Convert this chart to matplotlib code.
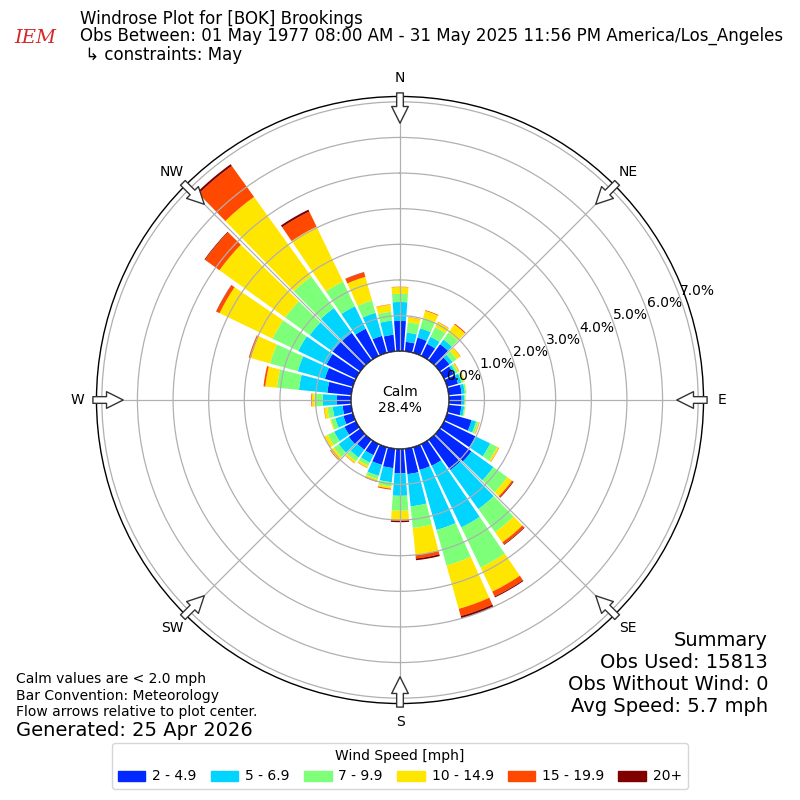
import numpy as np
import matplotlib
matplotlib.use("Agg")
import matplotlib.pyplot as plt
from matplotlib.patches import Circle, Rectangle

# direction bins (deg, meteorological) and percent frequency per speed bin
directions = np.arange(0, 360, 10)
speed_labels = ["2 - 4.9", "5 - 6.9", "7 - 9.9", "10 - 14.9", "15 - 19.9", "20+"]
speed_colors = ["#0028ff", "#00d4ff", "#7dff7a", "#ffe600", "#ff4800", "#800000"]

pct_2_5 = [0.85, 0.27, 0.45, 0.38, 0.56, 0.34, 0.30, 0.32, 0.37, 0.36,
           0.36, 0.72, 0.98, 1.10, 1.05, 0.68, 0.67, 0.72, 0.69, 0.55,
           0.52, 0.35, 0.35, 0.40, 0.36, 0.28, 0.25, 0.40, 0.68, 0.82,
           0.92, 0.96, 0.95, 0.85, 0.50, 0.47]
pct_5_7 = [0.53, 0.26, 0.27, 0.22, 0.16, 0.11, 0.07, 0.10, 0.09, 0.08,
           0.08, 0.13, 0.46, 0.76, 1.35, 1.92, 1.75, 0.91, 0.63, 0.40,
           0.32, 0.23, 0.27, 0.35, 0.32, 0.24, 0.28, 0.40, 0.80, 0.79,
           0.88, 0.79, 0.86, 0.70, 0.67, 0.40]
pct_7_10 = [0.23, 0.29, 0.30, 0.30, 0.24, 0.14, 0.06, 0.06, 0.04, 0.03,
            0.03, 0.06, 0.22, 0.48, 0.80, 1.25, 1.04, 0.61, 0.42, 0.12,
            0.10, 0.10, 0.13, 0.17, 0.20, 0.12, 0.15, 0.23, 0.62, 0.81,
            0.80, 0.85, 1.09, 0.77, 0.36, 0.25]
pct_10_15 = [0.19, 0.14, 0.21, 0.16, 0.28, 0.13, 0.04, 0.04, 0.01, 0.01,
             0.01, 0.03, 0.05, 0.16, 0.35, 0.75, 1.26, 0.76, 0.25, 0.06,
             0.05, 0.06, 0.06, 0.11, 0.11, 0.03, 0.09, 0.07, 0.33, 0.56,
             1.65, 2.27, 2.75, 1.71, 0.69, 0.20]
pct_15_20 = [0.01, 0.01, 0.02, 0.01, 0.03, 0.01, 0.01, 0.00, 0.00, 0.00,
             0.00, 0.01, 0.01, 0.04, 0.07, 0.15, 0.21, 0.10, 0.03, 0.03,
             0.03, 0.01, 0.01, 0.02, 0.01, 0.00, 0.01, 0.02, 0.05, 0.06,
             0.10, 0.50, 1.07, 0.47, 0.13, 0.01]
pct_20p = [0.00, 0.00, 0.00, 0.00, 0.00, 0.00, 0.00, 0.00, 0.00, 0.00,
           0.00, 0.00, 0.00, 0.02, 0.02, 0.03, 0.07, 0.05, 0.04, 0.00,
           0.00, 0.00, 0.00, 0.00, 0.00, 0.00, 0.00, 0.00, 0.00, 0.00,
           0.01, 0.02, 0.06, 0.06, 0.01, 0.00]

calm_pct = 28.4
compass = ["N", "NE", "E", "SE", "S", "SW", "W", "NW"]
rticks = np.arange(0, 8)

fig = plt.figure(figsize=(8, 8), dpi=100)
ax = fig.add_axes([0.1206, 0.1206, 0.7588, 0.7588], projection="polar")
ax.set_theta_zero_location("N")
ax.set_theta_direction(-1)
rmax = 7.15
rorigin = -1.37
ax.set_rorigin(rorigin)
ax.set_ylim(0, rmax)

theta = np.deg2rad(directions)
width = np.deg2rad(10) * 0.86
bottom = np.zeros(len(directions))
series = [pct_2_5, pct_5_7, pct_7_10, pct_10_15, pct_15_20, pct_20p]
for vals, color, lab in zip(series, speed_colors, speed_labels):
    vals = np.asarray(vals)
    ax.bar(theta, vals, width=width, bottom=bottom, color=color,
           edgecolor="none", label=lab, zorder=2)
    bottom += vals

ax.set_axisbelow(False)
ax.grid(True, color="#b0b0b0", linewidth=0.9, zorder=3)
ax.set_rgrids(rticks, labels=[f"{v:.1f}%" for v in rticks], angle=70,
              fontsize=10)
ax.set_thetagrids(np.arange(0, 360, 45), labels=compass, fontsize=10)
ax.tick_params(axis="x", pad=3)
ax.spines["polar"].set_linewidth(1.0)

# calm circle in the middle
calm_r = (0 - rorigin) / (rmax - rorigin) * 0.5
ax.add_patch(Circle((0.5, 0.5), calm_r, transform=ax.transAxes,
                    facecolor="white", edgecolor="black", lw=1.0, zorder=4))
ax.text(0.5, 0.5, f"Calm\n{calm_pct}%", transform=ax.transAxes,
        ha="center", va="center", fontsize=10, zorder=5)

# flow arrows at the edge
for ang in np.arange(0, 360, 45):
    t = np.deg2rad(ang)
    ax.annotate("", xy=(t, 6.40), xytext=(t, 7.25),
                arrowprops=dict(arrowstyle="simple,head_length=1.2,"
                                "head_width=1.2,tail_width=0.48",
                                fc="white", ec="#333333", lw=1.0,
                                shrinkA=0, shrinkB=0),
                annotation_clip=False, zorder=6)

# header
fig.text(0.018, 0.952, "IEM", color="#d62728", fontsize=14,
         family="DejaVu Serif", style="italic", va="center")
fig.text(0.1, 0.976, "Windrose Plot for [BOK] Brookings", fontsize=12,
         va="center")
fig.text(0.1, 0.955, "Obs Between: 01 May 1977 08:00 AM - 31 May 2025 "
         "11:56 PM America/Los_Angeles", fontsize=12, va="center")
fig.text(0.1, 0.931, " \u21b3 constraints: May", fontsize=12, va="center")

# footnotes
fig.text(0.02, 0.151, "Calm values are < 2.0 mph", fontsize=10, va="center")
fig.text(0.02, 0.130, "Bar Convention: Meteorology", fontsize=10,
         va="center")
fig.text(0.02, 0.110, "Flow arrows relative to plot center.", fontsize=10,
         va="center")
fig.text(0.02, 0.0875, "Generated: 25 Apr 2026", fontsize=14, va="center")

summary = ["Summary", "Obs Used: 15813", "Obs Without Wind: 0",
           "Avg Speed: 5.7 mph"]
for i, line in enumerate(summary):
    fig.text(0.96, 0.2 - i * 0.0275, line, fontsize=14, ha="right",
             va="center")

handles = [Rectangle((0, 0), 1, 1, color=c) for c in speed_colors]
fig.legend(handles, speed_labels, loc="lower center",
           bbox_to_anchor=(0.5, 0.005), ncol=6, fontsize=10,
           title="Wind Speed [mph]", title_fontsize=10, handlelength=2.0,
           columnspacing=1.0, handletextpad=0.5)

fig.savefig("out.png", dpi=100)
